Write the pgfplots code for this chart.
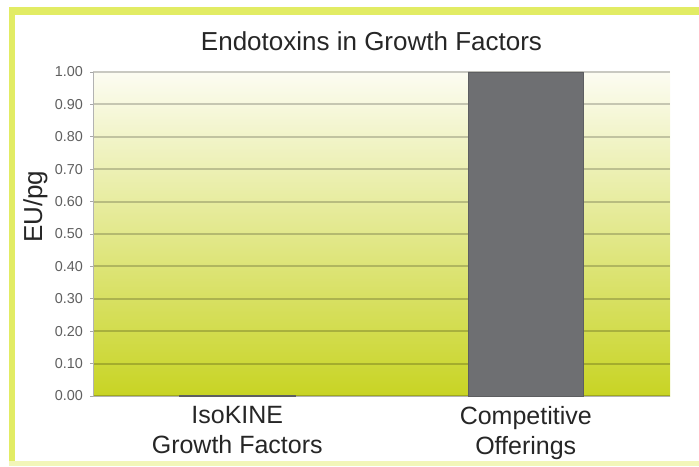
\documentclass[border=0pt]{standalone}
\usepackage{fontspec}
\setmainfont{Liberation Sans}
\usepackage{pgfplots}
\pgfplotsset{compat=1.18}
\definecolor{framecol}{RGB}{226,236,100}
\definecolor{bgtop}{RGB}{252,252,242}
\definecolor{bgmid}{RGB}{224,231,125}
\definecolor{bgbot}{RGB}{200,212,36}
\definecolor{bargray}{RGB}{110,111,114}
\definecolor{ticktext}{RGB}{95,95,95}
\begin{document}
\begin{tikzpicture}
\path[use as bounding box] (0,0) rectangle (349.5pt,233pt);
% yellow frame: top band, left band, pale bottom line
\fill[framecol] (4.5pt,225.5pt) rectangle (349.5pt,229.5pt);
\fill[framecol] (4.5pt,0pt) rectangle (7.5pt,229.5pt);
\fill[framecol!45] (4.5pt,0pt) rectangle (349.5pt,2.5pt);
\begin{axis}[
  at={(46.5pt,35pt)}, anchor=south west,
  width=288.5pt, height=162pt, scale only axis,
  xmin=-0.5, xmax=1.5, ymin=0, ymax=1,
  axis lines*=left,
  axis line style={gray!60, line width=0.5pt},
  axis background/.style={shade, top color=bgtop, middle color=bgmid, bottom color=bgbot},
  ytick={0,0.1,0.2,0.3,0.4,0.5,0.6,0.7,0.8,0.9,1},
  yticklabel style={font=\fontsize{7.2}{8}\selectfont, text=ticktext},
  y tick label style={/pgf/number format/.cd, fixed, fixed zerofill, precision=2, assume math mode=true},
  ytick style={gray!70, line width=0.4pt},
  tick align=outside, major tick length=1.5pt,
  ymajorgrids,
  major grid style={black, opacity=0.2, line width=1pt},
  xtick={0,1},
  xticklabels={{IsoKINE\\Growth Factors},{Competitive\\Offerings}},
  xticklabel style={align=center, font=\fontsize{12.5}{15}\selectfont, text=black!85},
  xtick style={draw=none},
  ylabel={EU/pg},
  ylabel style={at={(axis description cs:-0.1,0.584)}, anchor=center, font=\fontsize{13}{15}\selectfont, text=black!85},
  title={Endotoxins in Growth Factors},
  title style={at={(0.5,1)}, anchor=base, xshift=-5pt, yshift=4.5pt, font=\fontsize{13}{15}\selectfont, text=black!85},
]
\addplot[ybar, bar width=0.4, fill=bargray, draw=bargray!85!black] coordinates {(0,0.003) (1,1.0)};
\end{axis}
\end{tikzpicture}
\end{document}
